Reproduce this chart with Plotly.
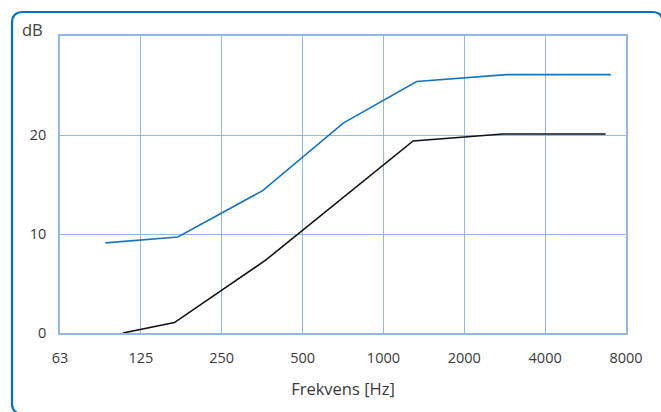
import math
import plotly.graph_objects as go

# ---- data ----
tick_labels = ["63", "125", "250", "500", "1000", "2000", "4000", "8000"]
blue_freq = [93, 173, 359, 714, 1340, 2900, 7080]
blue_db = [9.1, 9.7, 14.4, 21.2, 25.4, 26.1, 26.1]
black_freq = [108, 168, 365, 1300, 2810, 6770]
black_db = [0.0, 1.05, 7.3, 19.4, 20.1, 20.1]
y_ticks = [0, 10, 20, 30]
y_labels = ["0", "10", "20", ""]

W, H = 661, 412
L, R, T, B = 60, 35, 36, 79
PW, PH = W - L - R, H - T - B

def px(x):
    return (x - L) / PW

def py(y):
    return (H - B - y) / PH

tick_vals = [63 * 2 ** k for k in range(len(tick_labels))]

fig = go.Figure()
fig.add_trace(go.Scatter(x=blue_freq, y=blue_db, mode="lines",
                         line=dict(color="#1675BF", width=1.6), showlegend=False))
fig.add_trace(go.Scatter(x=black_freq, y=black_db, mode="lines",
                         line=dict(color="#111111", width=1.6), showlegend=False))

grid = "#93B8E6"
txt = "#3a3a3a"
font = dict(family="Open Sans", size=14.5, color=txt)

# rounded frame (extends beyond the right and bottom edges)
x0, y0, x1, y1, r = 12, 12, 663, 414, 11
path = (f"M {px(x0 + r)},{py(y1)} Q {px(x0)},{py(y1)} {px(x0)},{py(y1 - r)} "
        f"L {px(x0)},{py(y0 + r)} "
        f"Q {px(x0)},{py(y0)} {px(x0 + r)},{py(y0)} "
        f"L {px(x1 - r)},{py(y0)} Q {px(x1)},{py(y0)} {px(x1)},{py(y0 + r)} "
        f"L {px(x1)},{py(y1)}")

fig.update_layout(
    width=W, height=H,
    margin=dict(l=L, r=R, t=T, b=B),
    paper_bgcolor="white", plot_bgcolor="white",
    font=font,
    xaxis=dict(type="log", range=[math.log10(63), math.log10(63 * 2 ** 7)],
               tickvals=tick_vals, ticktext=tick_labels, showgrid=True,
               gridcolor=grid, gridwidth=1, zeroline=False,
               showline=True, linecolor=grid, linewidth=1.5, mirror=True,
               ticks="", ticklabelstandoff=11,
               title=dict(text="Frekvens [Hz]", standoff=17,
                          font=dict(family="Open Sans", size=16.5, color=txt))),
    yaxis=dict(range=[0, 30], tickvals=y_ticks, ticktext=y_labels,
               showgrid=True, gridcolor=grid, gridwidth=1, zeroline=False,
               showline=True, linecolor=grid, linewidth=1.5, mirror=True,
               ticks="", ticklabelstandoff=9),
    shapes=[dict(type="path", path=path, xref="paper", yref="paper",
                 line=dict(color="#0A6FBF", width=2.2), layer="above")],
    annotations=[dict(text="dB", xref="paper", yref="paper", x=px(20), y=py(29),
                      xanchor="left", yanchor="middle", showarrow=False,
                      font=dict(family="Open Sans", size=16.5, color="#444444"))],
)

fig.write_html("out.html", config={"displayModeBar": False},
               post_script="document.body.style.margin='0';document.body.style.overflow='hidden';")
